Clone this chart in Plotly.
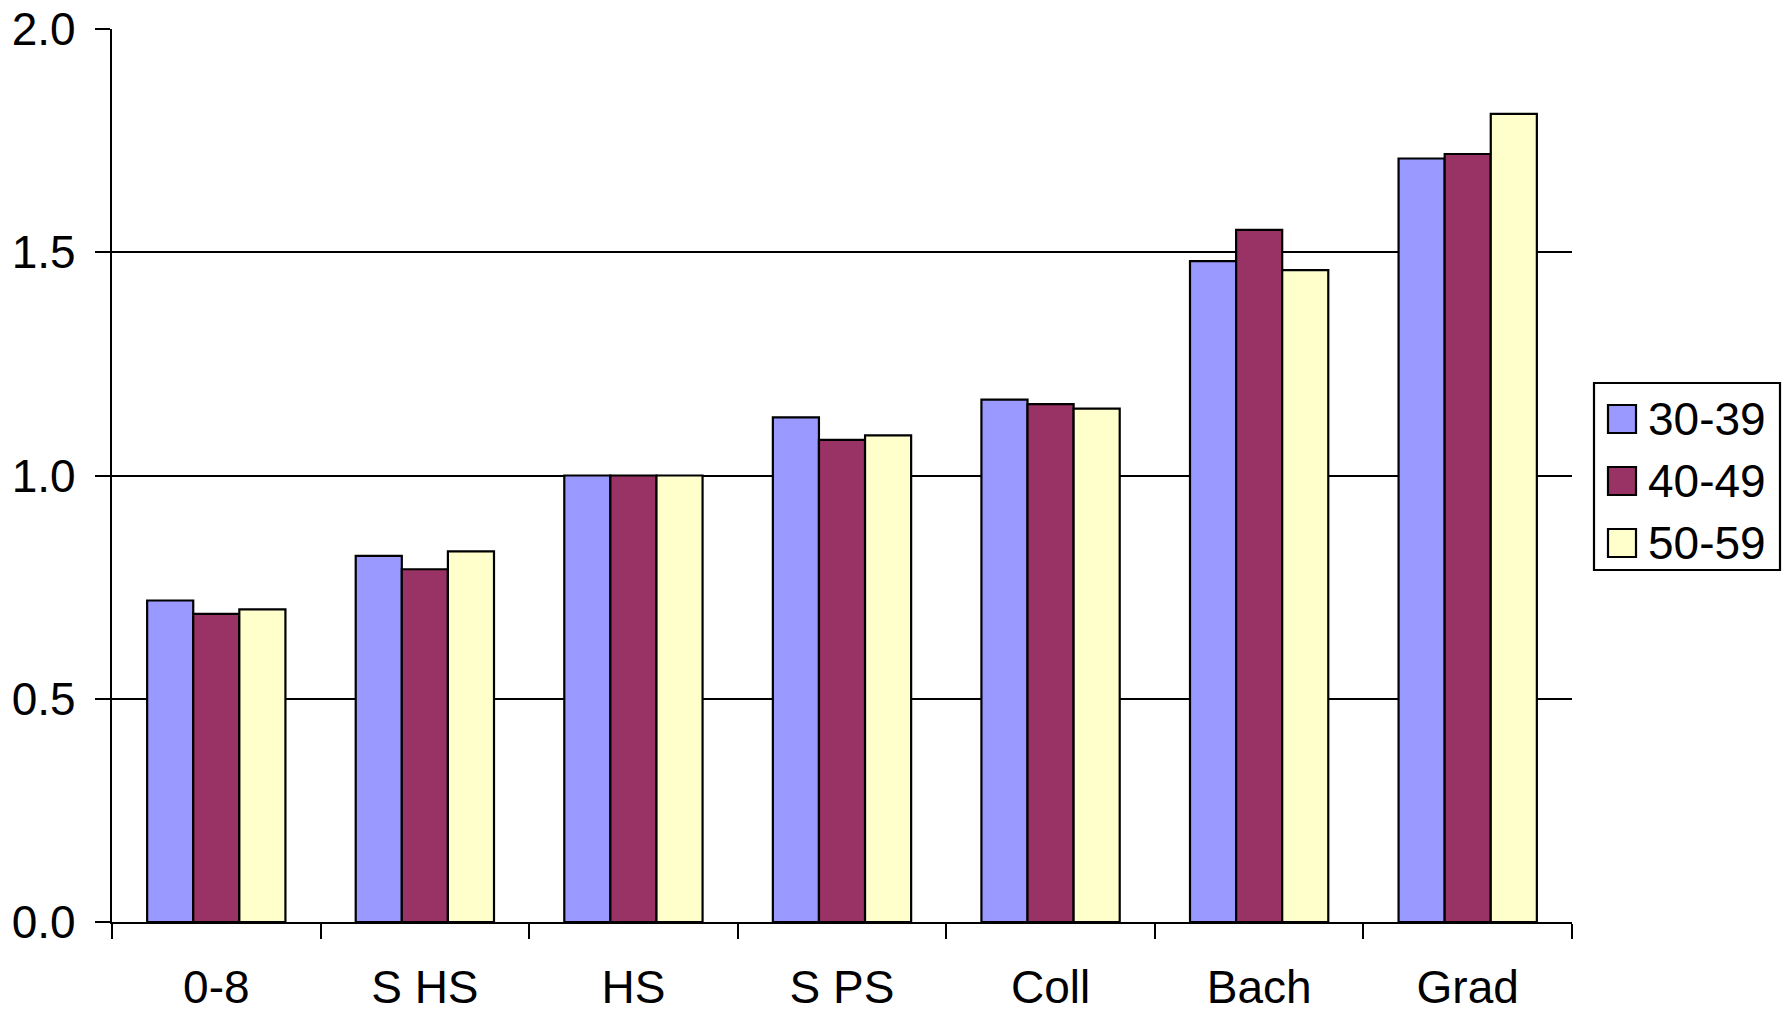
import plotly.graph_objects as go

# Education categories and ratios for three age groups
categories = ["0-8", "S HS", "HS", "S PS", "Coll", "Bach", "Grad"]
series_names = ["30-39", "40-49", "50-59"]
ages_30_39 = [0.72, 0.82, 1.00, 1.13, 1.17, 1.48, 1.71]
ages_40_49 = [0.69, 0.79, 1.00, 1.08, 1.16, 1.55, 1.72]
ages_50_59 = [0.70, 0.83, 1.00, 1.09, 1.15, 1.46, 1.81]
y_ticks = [0.0, 0.5, 1.0, 1.5, 2.0]

series_values = [ages_30_39, ages_40_49, ages_50_59]
colors = ["#9999FF", "#993366", "#FFFFCC"]

FONT = "Liberation Sans, Arial, sans-serif"
FS = 46
W, H = 1784, 1012
L, R, T, B = 112, 212, 29, 90
PW, PH = W - L - R, H - T - B


def paper_x(x_px):
    return (x_px - L) / PW


def paper_y(y_px):
    return (H - B - y_px) / PH


fig = go.Figure()
for name, vals, col in zip(series_names, series_values, colors):
    fig.add_trace(go.Bar(
        x=categories, y=vals, name=name,
        marker=dict(color=col, line=dict(color="black", width=2.2)),
        showlegend=False,
    ))

# Boxed legend with large square swatches, to the right of the plot
shapes = [dict(type="rect", xref="paper", yref="paper",
               x0=paper_x(1594), x1=paper_x(1780),
               y0=paper_y(570), y1=paper_y(383),
               line=dict(color="black", width=2.2), fillcolor="white", layer="above")]
annotations = []
centers = [419, 481, 543]
for name, col, cy in zip(series_names, colors, centers):
    shapes.append(dict(type="rect", xref="paper", yref="paper",
                       x0=paper_x(1608), x1=paper_x(1636),
                       y0=paper_y(cy + 14), y1=paper_y(cy - 14),
                       line=dict(color="black", width=2.2), fillcolor=col, layer="above"))
    annotations.append(dict(xref="paper", yref="paper",
                            x=paper_x(1646), y=paper_y(cy),
                            xanchor="left", yanchor="middle", text=name, showarrow=False,
                            font=dict(family=FONT, size=FS, color="black")))

fig.update_layout(
    width=W, height=H,
    margin=dict(l=L, r=R, t=T, b=B, pad=0),
    paper_bgcolor="white", plot_bgcolor="white",
    barmode="group", bargap=0.337, bargroupgap=0,
    font=dict(family=FONT, size=FS, color="black"),
    shapes=shapes, annotations=annotations,
    showlegend=False,
)
fig.update_xaxes(
    type="category", tickson="boundaries", ticks="outside", ticklen=15,
    tickwidth=2.2, tickcolor="black", showline=True, linecolor="black", linewidth=2.2,
    showgrid=False, ticklabelstandoff=24, automargin=False,
    tickfont=dict(family=FONT, size=FS, color="black"),
)
fig.update_yaxes(
    range=[0, 2], tickvals=y_ticks, ticktext=[f"{v:.1f}" for v in y_ticks],
    ticks="outside", ticklen=15, tickwidth=2.2, tickcolor="black",
    showline=True, linecolor="black", linewidth=2.2,
    showgrid=True, gridcolor="black", gridwidth=2.2, zeroline=False,
    ticklabelstandoff=10, automargin=False,
    tickfont=dict(family=FONT, size=FS, color="black"),
)

fig.write_html("out.html")
